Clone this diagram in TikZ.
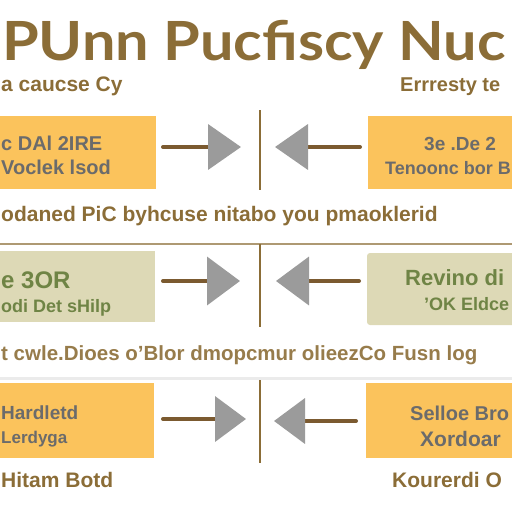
\documentclass[tikz,border=0pt]{standalone}
\usepackage{fontspec}
\setmainfont{Liberation Sans}
\newfontfamily\headfont{Lato}
\usetikzlibrary{arrows.meta}
\definecolor{gold}{HTML}{8B6D37}
\definecolor{ybox}{HTML}{FBC35C}
\definecolor{kbox}{HTML}{DDD9B6}
\definecolor{ktext}{HTML}{6F8445}
\definecolor{gtext}{HTML}{6B6B6B}
\definecolor{shaft}{HTML}{7B5A30}
\definecolor{tri}{HTML}{9B9B9B}
\begin{document}
\begin{tikzpicture}[x=1pt,y=-1pt,
    txt/.style={anchor=base west,inner sep=0pt},
    panel/.style={rectangle,inner sep=0pt,fill=#1},
    pointer/.style={shaft,line width=4pt,line cap=round,
      -{Triangle[length=33pt,width=45pt,color=tri]}},
    divider/.style={gold,line width=2.5pt}]
\useasboundingbox (0,0) rectangle (512,512);
% heading
\node[txt,gold,font=\headfont\bfseries\fontsize{54}{54}\selectfont] (title) at (2,60) {\scalebox{1.1}[1]{PUnn Pucfiscy Nuc}};
\node[txt,gold,font=\bfseries\fontsize{21}{21}\selectfont] (subl) at (1,91) {a caucse Cy};
\node[txt,gold,font=\bfseries\fontsize{20}{20}\selectfont] (subr) at (400,91) {Errresty te};
% first row
\node[panel=ybox,minimum width=166pt,minimum height=73pt] (b1l) at (73,152.5) {};
\node[panel=ybox,minimum width=162pt,minimum height=73pt] (b1r) at (449,152.5) {};
\node[txt,gtext,font=\bfseries\fontsize{20}{20}\selectfont] (t1a) at (1,150) {c DAl 2IRE};
\node[txt,gtext,font=\bfseries\fontsize{20}{20}\selectfont] (t1b) at (1,174) {Voclek lsod};
\node[txt,gtext,font=\bfseries\fontsize{19}{19}\selectfont] (t1c) at (424,150) {3e .De 2};
\node[txt,gtext,font=\bfseries\fontsize{18}{18}\selectfont] (t1d) at (385,174) {Tenoonc bor B};
\draw[divider] (260,110) coordinate (d1t) -- (260,190) coordinate (d1b);
\coordinate (s1l) at (163,147); \coordinate (e1l) at (241,147);
\coordinate (s1r) at (360,147); \coordinate (e1r) at (275,147);
\draw[pointer] (s1l) -- (e1l);
\draw[pointer] (s1r) -- (e1r);
\node[txt,gold,font=\bfseries\fontsize{21}{21}\selectfont] (cap1) at (1,221) {odaned PiC byhcuse nitabo you pmaoklerid};
% second row
\draw[gold!70,line width=1.5pt] (0,244) coordinate (h1l) -- (512,244) coordinate (h1r);
\node[panel=kbox,minimum width=165pt,minimum height=71pt] (b2l) at (72.5,286.5) {};
\node[panel=kbox,minimum width=160pt,minimum height=72pt,rounded corners=3pt] (b2r) at (447,289) {};
\node[txt,ktext,font=\bfseries\fontsize{24}{24}\selectfont] (t2a) at (1,288) {e 3OR};
\node[txt,ktext,font=\bfseries\fontsize{18}{18}\selectfont] (t2b) at (1,312) {odi Det sHilp};
\node[txt,ktext,font=\bfseries\fontsize{22}{22}\selectfont] (t2c) at (405,285) {Revino di};
\node[txt,ktext,font=\bfseries\fontsize{18}{18}\selectfont] (t2d) at (424,310) {'OK Eldce};
\draw[divider,line width=2pt] (260,244) coordinate (d2t) -- (260,327) coordinate (d2b);
\coordinate (s2l) at (163,281); \coordinate (e2l) at (240,281);
\coordinate (s2r) at (359,281); \coordinate (e2r) at (276,281);
\draw[pointer,-{Triangle[length=33pt,width=48pt,color=tri]}] (s2l) -- (e2l);
\draw[pointer,-{Triangle[length=33pt,width=48pt,color=tri]}] (s2r) -- (e2r);
\node[txt,gold!90,font=\bfseries\fontsize{20.5}{20.5}\selectfont] (cap2) at (1,360) {t cwle.Dioes o'Blor dmopcmur olieezCo Fusn log};
% third row
\draw[black!8,line width=3pt] (0,378) coordinate (h2l) -- (512,378) coordinate (h2r);
\node[panel=ybox,minimum width=164pt,minimum height=75pt] (b3l) at (72,420.5) {};
\node[panel=ybox,minimum width=164pt,minimum height=75pt] (b3r) at (448,420.5) {};
\node[txt,gtext,font=\bfseries\fontsize{19}{19}\selectfont] (t3a) at (1,419) {Hardletd};
\node[txt,gtext,font=\bfseries\fontsize{17}{17}\selectfont] (t3b) at (1,443) {Lerdyga};
\node[txt,gtext,font=\bfseries\fontsize{20}{20}\selectfont] (t3c) at (410,420) {Selloe Bro};
\node[txt,gtext,font=\bfseries\fontsize{21}{21}\selectfont] (t3d) at (420,446) {Xordoar};
\draw[divider] (260,380) coordinate (d3t) -- (260,463) coordinate (d3b);
\coordinate (s3l) at (163,419); \coordinate (e3l) at (246,419);
\coordinate (s3r) at (356,421); \coordinate (e3r) at (274,421);
\draw[pointer,-{Triangle[length=31pt,width=45pt,color=tri]}] (s3l) -- (e3l);
\draw[pointer,-{Triangle[length=31pt,width=45pt,color=tri]}] (s3r) -- (e3r);
\node[txt,gold,font=\bfseries\fontsize{21}{21}\selectfont] (fl) at (1,487) {Hitam Botd};
\node[txt,gold,font=\bfseries\fontsize{21}{21}\selectfont] (fr) at (392,487) {Kourerdi O};
\end{tikzpicture}
\end{document}
